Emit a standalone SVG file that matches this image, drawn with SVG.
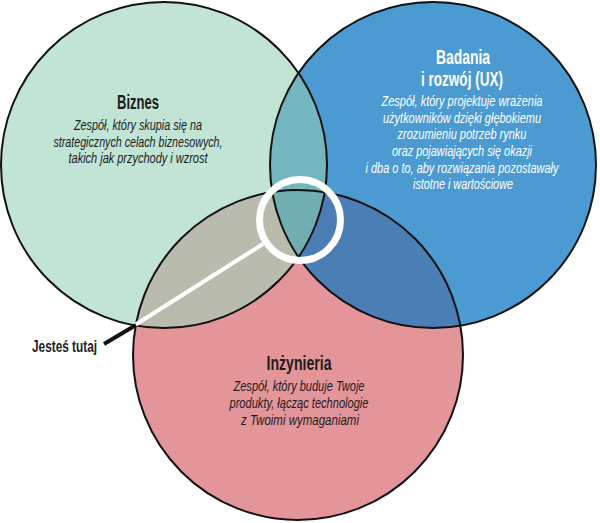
<svg xmlns="http://www.w3.org/2000/svg" width="600" height="523" viewBox="0 0 600 523">
  <style>
    .title { font-family: "Liberation Sans Narrow", "Liberation Sans", sans-serif; font-weight: bold; font-size: 20px; text-anchor: middle; }
    .desc { font-family: "Liberation Sans Narrow", "Liberation Sans", sans-serif; font-style: italic; font-size: 14.5px; text-anchor: middle; }
    .dark { fill: #1c1c1c; }
    .light { fill: #ffffff; }
    .outline { fill: none; stroke: #111111; stroke-width: 2; }
    .label { font-family: "Liberation Sans Narrow", "Liberation Sans", sans-serif; font-weight: bold; font-size: 16px; fill: #222222; }
  </style>
  <defs>
    <clipPath id="clipGreen"><circle cx="164" cy="165" r="163"/></clipPath>
    <clipPath id="clipBlue"><circle cx="433" cy="165" r="163"/></clipPath>
    <clipPath id="clipRed"><circle cx="298" cy="355" r="165"/></clipPath>
  </defs>
  <rect width="600" height="523" fill="#ffffff"/>

  <g id="fills">
    <circle cx="164" cy="165" r="163" fill="#c2e4d4"/>
    <circle cx="433" cy="165" r="163" fill="#4b9bd2"/>
    <circle cx="298" cy="355" r="165" fill="#e3959a"/>
    <circle cx="433" cy="165" r="163" fill="#74b6bf" clip-path="url(#clipGreen)"/>
    <circle cx="298" cy="355" r="165" fill="#b9bcad" clip-path="url(#clipGreen)"/>
    <circle cx="298" cy="355" r="165" fill="#4a7eb4" clip-path="url(#clipBlue)"/>
    <g clip-path="url(#clipBlue)">
      <circle cx="298" cy="355" r="165" fill="#71aeb2" clip-path="url(#clipGreen)"/>
    </g>
  </g>

  <g id="node-biznes">
    <circle class="outline" cx="164" cy="165" r="163"/>
    <text class="title dark" x="138" y="109" textLength="42" lengthAdjust="spacingAndGlyphs">Biznes</text>
    <text class="desc dark" x="138" y="130" textLength="128" lengthAdjust="spacingAndGlyphs">Zespół, który skupia się na</text>
    <text class="desc dark" x="138" y="147" textLength="169" lengthAdjust="spacingAndGlyphs">strategicznych celach biznesowych,</text>
    <text class="desc dark" x="138" y="163" textLength="139" lengthAdjust="spacingAndGlyphs">takich jak przychody i wzrost</text>
  </g>

  <g id="node-ux">
    <circle class="outline" cx="433" cy="165" r="163"/>
    <text class="title light" x="463" y="64" textLength="54" lengthAdjust="spacingAndGlyphs">Badania</text>
    <text class="title light" x="462" y="86" textLength="82" lengthAdjust="spacingAndGlyphs">i rozwój (UX)</text>
    <text class="desc light" x="462" y="106" textLength="161" lengthAdjust="spacingAndGlyphs">Zespół, który projektuje wrażenia</text>
    <text class="desc light" x="462" y="123" textLength="158" lengthAdjust="spacingAndGlyphs">użytkowników dzięki głębokiemu</text>
    <text class="desc light" x="462" y="139" textLength="129" lengthAdjust="spacingAndGlyphs">zrozumieniu potrzeb rynku</text>
    <text class="desc light" x="462" y="156" textLength="140" lengthAdjust="spacingAndGlyphs">oraz pojawiających się okazji</text>
    <text class="desc light" x="462" y="173" textLength="193" lengthAdjust="spacingAndGlyphs">i dba o to, aby rozwiązania pozostawały</text>
    <text class="desc light" x="463" y="189" textLength="100" lengthAdjust="spacingAndGlyphs">istotne i wartościowe</text>
  </g>

  <g id="node-inzynieria">
    <circle class="outline" cx="298" cy="355" r="165"/>
    <text class="title dark" x="299" y="370" textLength="65" lengthAdjust="spacingAndGlyphs">Inżynieria</text>
    <text class="desc dark" x="299" y="391" textLength="131" lengthAdjust="spacingAndGlyphs">Zespół, który buduje Twoje</text>
    <text class="desc dark" x="299" y="408" textLength="139" lengthAdjust="spacingAndGlyphs">produkty, łącząc technologie</text>
    <text class="desc dark" x="300" y="425" textLength="118" lengthAdjust="spacingAndGlyphs">z Twoimi wymaganiami</text>
  </g>

  <g id="connectors">
    <line x1="263" y1="244" x2="135" y2="325" stroke="#ffffff" stroke-width="4"/>
    <line x1="136" y1="325" x2="104" y2="344" stroke="#111111" stroke-width="4"/>
    <circle cx="300" cy="220" r="40.5" fill="none" stroke="#ffffff" stroke-width="7"/>
  </g>

  <g id="node-here">
    <text class="label" x="32" y="352" textLength="65" lengthAdjust="spacingAndGlyphs">Jesteś tutaj</text>
  </g>
</svg>
